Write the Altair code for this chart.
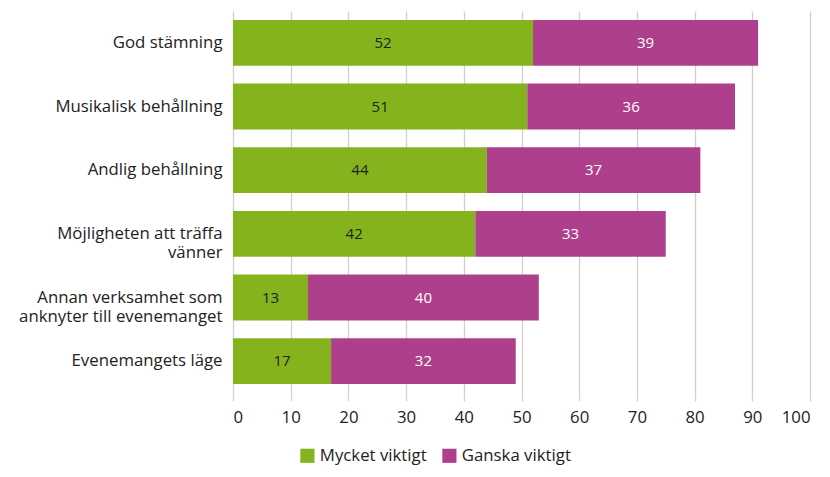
import altair as alt
import pandas as pd

categories = ["God stämning", "Musikalisk behållning", "Andlig behållning",
              "Möjligheten att träffa|vänner", "Annan verksamhet som|anknyter till evenemanget",
              "Evenemangets läge"]
mycket = [52, 51, 44, 42, 13, 17]
ganska = [39, 36, 37, 33, 40, 32]
series = ["Mycket viktigt", "Ganska viktigt"]
colors = ["#84b31e", "#ae3f8c"]
ticks = [0, 10, 20, 30, 40, 50, 60, 70, 80, 90, 100]

rows = []
for c, m, g in zip(categories, mycket, ganska):
    rows.append({"cat": c, "serie": series[0], "value": m, "ord": 0})
    rows.append({"cat": c, "serie": series[1], "value": g, "ord": 1})
df = pd.DataFrame(rows)

FONT = "Open Sans"
LBL = 16.8

base = alt.Chart(df).transform_stack(
    stack="value", groupby=["cat"], as_=["x0", "x1"], sort=[alt.SortField("ord")]
).transform_calculate(mid="(datum.x0 + datum.x1) / 2")

y_enc = alt.Y("cat:N", sort=categories, title=None,
              scale=alt.Scale(paddingInner=0.28, paddingOuter=0.14),
              axis=alt.Axis(labelExpr="split(datum.label, '|')", labelFontSize=LBL,
                            labelFont=FONT, labelColor="#222222", ticks=False, domain=False,
                            labelPadding=11, labelLineHeight=19.5, labelLimit=300))

bars = base.mark_bar().encode(
    x=alt.X("x0:Q", title=None, scale=alt.Scale(domain=[0, 100], nice=False),
            axis=alt.Axis(values=ticks, grid=True, gridColor="#d0d0d0", gridWidth=1.3,
                          domain=False, tickColor="#d0d0d0", tickSize=8, tickWidth=1.3,
                          labelFontSize=LBL, labelFont=FONT, labelColor="#222222",
                          labelPadding=8)),
    x2="x1:Q",
    y=y_enc,
    color=alt.Color("serie:N", sort=series,
                    scale=alt.Scale(domain=series, range=colors),
                    legend=alt.Legend(title=None, orient="none", direction="horizontal",
                                      legendX=66, legendY=436, symbolType="square",
                                      symbolSize=200, symbolStrokeWidth=0,
                                      labelFontSize=LBL, labelFont=FONT, labelColor="#222222",
                                      columnPadding=14, symbolOpacity=1)),
    order=alt.Order("ord:Q"),
)

text = base.mark_text(fontSize=15, font=FONT).encode(
    x="mid:Q",
    y=alt.Y("cat:N", sort=categories),
    text="value:Q",
    color=alt.Color("serie:N", scale=alt.Scale(domain=series, range=["#222222", "#ffffff"]),
                    legend=None),
)

chart = alt.layer(bars, text).resolve_scale(color="independent").properties(
    width=577, height=382,
    autosize=alt.AutoSizeParams(type="none"),
    padding={"left": 225, "top": 3, "right": 8, "bottom": 76},
).configure_view(stroke=None)

chart.save("out.html", embed_options={"renderer": "svg", "actions": False})
